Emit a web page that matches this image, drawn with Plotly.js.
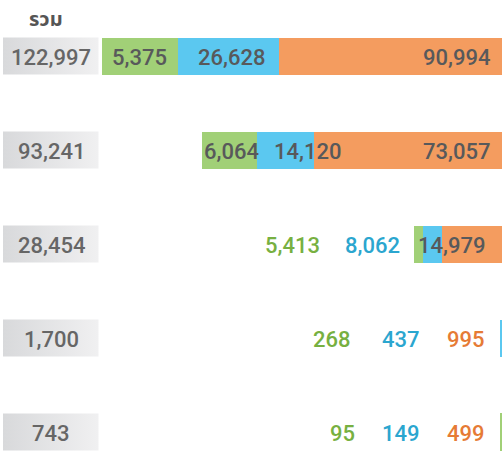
<!DOCTYPE html>
<html>
<head>
<meta charset="utf-8">
<script src="https://cdn.plot.ly/plotly-3.0.1.min.js"></script>
<style>html,body{margin:0;padding:0;background:#fff;}#chart{width:502px;height:451px;}</style>
</head>
<body>
<div id="chart"></div>
<script>
// ---- data ----
const rows = [0, 1, 2, 3, 4];
const totals = [122997, 93241, 28454, 1700, 743];
const totalLabels = ['122,997', '93,241', '28,454', '1,700', '743'];
const greenVals = [5375, 6064, 5413, 268, 95];
const blueVals = [26628, 14120, 8062, 437, 149];
const orangeVals = [90994, 73057, 14979, 995, 499];
// segment lengths as drawn in the picture (the drawing is not to scale with the labels)
const greenLen = [23400, 16900, 2800, 0, 600];
const blueLen = [31100, 17500, 5800, 600, 0];
const orangeLen = [68600, 57800, 18500, 0, 0];
const header = 'รวม';

// ---- style ----
const C = {
  green: '#a1d077', blue: '#5bc8f0', orange: '#f49c5f',
  greenT: '#77b041', blueT: '#2ba6cf', orangeT: '#e67b35',
  dark: '#58595b', box: '#666666'
};
const FONT = 'Roboto, "Open Sans", sans-serif';
const fmt = v => v.toLocaleString('en-US');
const BW = 0.394;

const traces = [];
// gray total boxes (pixel-like secondary axis)
rows.forEach(r => {
  traces.push({
    type: 'scatter', xaxis: 'x2', yaxis: 'y', mode: 'lines',
    x: [3, 98.5, 98.5, 3, 3], y: [r - BW/2, r - BW/2, r + BW/2, r + BW/2, r - BW/2],
    line: {width: 0}, fill: 'toself', fillcolor: '#e4e5e6',
    fillgradient: {type: 'horizontal', colorscale: [[0, '#d8d9db'], [1, '#f0f0f1']]},
    hoverinfo: 'skip', showlegend: false
  });
});
[[orangeLen, C.orange], [blueLen, C.blue], [greenLen, C.green]].forEach(([vals, col]) => {
  traces.push({
    type: 'bar', orientation: 'h', y: rows, x: vals, width: BW,
    marker: {color: col, line: {width: 0}}, hoverinfo: 'skip', showlegend: false
  });
});

// label placements (layout): [x position in px, anchor] per row for green, blue, orange
const place = [
  [[139, 'center'], [231, 'center'], [492, 'right']],
  [[231, 'center'], [307, 'center'], [492, 'right']],
  [[322, 'right'], [402, 'right'], [487, 'right']],
  [[353, 'right'], [422, 'right'], [487, 'right']],
  [[357, 'right'], [422, 'right'], [487, 'right']]
];
const colorsByRow = [
  [C.dark, C.dark, C.dark],
  [C.dark, C.dark, C.dark],
  [C.greenT, C.blueT, C.dark],
  [C.greenT, C.blueT, C.orangeT],
  [C.greenT, C.blueT, C.orangeT]
];
const ann = [];
rows.forEach(r => {
  const vals = [greenVals[r], blueVals[r], orangeVals[r]];
  vals.forEach((v, k) => {
    ann.push({
      xref: 'x2', yref: 'y', x: place[r][k][0], y: r, xanchor: place[r][k][1], yanchor: 'middle',
      yshift: -1, text: fmt(v), showarrow: false,
      font: {family: FONT, size: 22, weight: 500, color: colorsByRow[r][k]}
    });
  });
  ann.push({
    xref: 'x2', yref: 'y', x: 51, y: r, xanchor: 'center', yanchor: 'middle',
    yshift: -1, text: totalLabels[r], showarrow: false,
    font: {family: FONT, size: 22, weight: 500, color: C.box}
  });
});
ann.push({
  xref: 'x2', yref: 'paper', x: 46, y: 1 - 18/451, xanchor: 'center', yanchor: 'middle',
  text: header, showarrow: false,
  font: {family: '"Noto Sans", "Noto Sans Thai", sans-serif', size: 20, weight: 700, color: '#555555'}
});

const layout = {
  width: 502, height: 451,
  margin: {l: 0, r: 0, t: 0, b: 0},
  paper_bgcolor: '#ffffff', plot_bgcolor: '#ffffff',
  barmode: 'stack', showlegend: false,
  xaxis: {range: [154500, 0], visible: false, fixedrange: true},
  xaxis2: {range: [0, 502], overlaying: 'x', visible: false, fixedrange: true},
  yaxis: {range: [4.202, -0.596], visible: false, fixedrange: true},
  annotations: ann
};
Plotly.newPlot('chart', traces, layout, {staticPlot: true, displayModeBar: false});
</script>
</body>
</html>
